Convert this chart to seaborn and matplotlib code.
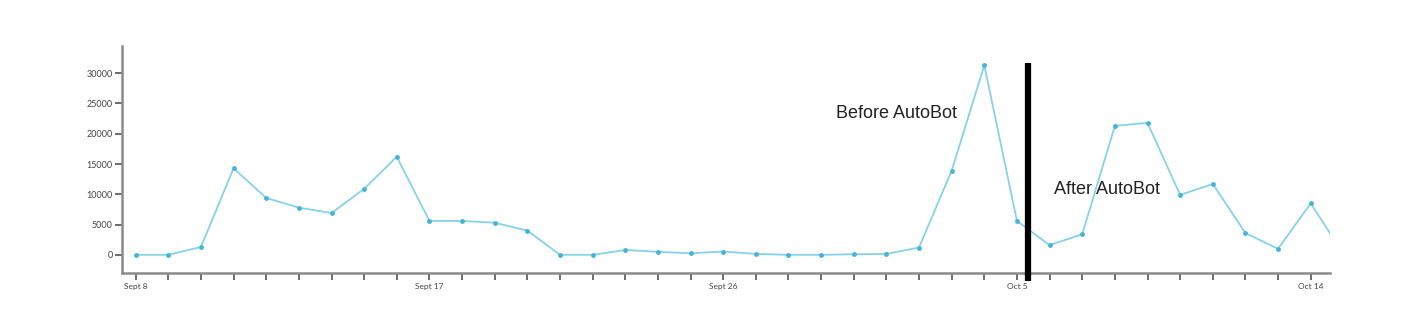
import matplotlib
matplotlib.use("Agg")
import matplotlib.pyplot as plt
import seaborn as sns
import pandas as pd

days = ["Sept 8", "Sept 9", "Sept 10", "Sept 11", "Sept 12", "Sept 13", "Sept 14",
        "Sept 15", "Sept 16", "Sept 17", "Sept 18", "Sept 19", "Sept 20", "Sept 21",
        "Sept 22", "Sept 23", "Sept 24", "Sept 25", "Sept 26", "Sept 27", "Sept 28",
        "Sept 29", "Sept 30", "Oct 1", "Oct 2", "Oct 3", "Oct 4", "Oct 5", "Oct 6",
        "Oct 7", "Oct 8", "Oct 9", "Oct 10", "Oct 11", "Oct 12", "Oct 13", "Oct 14",
        "Oct 15"]
values = [0, 0, 1300, 14300, 9400, 7800, 6900, 10900, 16200, 5600, 5600, 5300, 4000,
          0, 0, 800, 500, 250, 550, 150, 0, 0, 100, 150, 1200, 13900, 31300, 5600,
          1600, 3400, 21300, 21800, 9900, 11700, 3600, 1000, 8500, 200]
label_days = ["Sept 8", "Sept 17", "Sept 26", "Oct 5", "Oct 14"]
yticks = [0, 5000, 10000, 15000, 20000, 25000, 30000]
divider_pos = 27.35
before_text = "Before AutoBot"
after_text = "After AutoBot"

sns.set_theme(style="white")
plt.rcParams['font.family'] = ['Lato', 'DejaVu Sans']

df = pd.DataFrame({"idx": range(len(days)), "day": days, "value": values})

fig = plt.figure(figsize=(14.12, 3.14), dpi=100)
ax = fig.add_axes([0.0866, 0.1306, 0.9419 - 0.0866, 0.8545 - 0.1306])

sns.lineplot(data=df, x="idx", y="value", ax=ax, color="#86d2ea", linewidth=1.3,
             marker="o", markersize=3.5, markerfacecolor="#45b4da",
             markeredgecolor="#45b4da", markeredgewidth=0)

ax.set_xlabel("")
ax.set_ylabel("")

tick_idx = list(range(len(days) - 1))
ax.set_xticks(tick_idx)
ax.set_xticklabels([days[i] if days[i] in label_days else "" for i in tick_idx])
ax.set_yticks(yticks)
ax.set_yticklabels([str(v) for v in yticks])

ax.set_xlim(-0.41, 36.59)
ax.set_ylim(-3000, 34550)

for s in ["top", "right"]:
    ax.spines[s].set_visible(False)
for s in ["left", "bottom"]:
    ax.spines[s].set_color("#8a8a8a")
    ax.spines[s].set_linewidth(1.8)

ax.tick_params(axis="both", which="both", direction="out", length=5, width=1.2,
               color="#555555", labelcolor="#444444", labelsize=6.5, pad=2,
               left=True, bottom=True)
ax.tick_params(axis="x", labelsize=6)

ax.vlines(divider_pos, -4300, 31650, colors="black", linewidth=4.5, clip_on=False, zorder=5)

ax.text(896 / 1412, 1 - 113 / 314, before_text, transform=fig.transFigure,
        ha="center", va="center", fontsize=13, family=["Liberation Sans"], color="#222222")
ax.text(1107 / 1412, 1 - 189 / 314, after_text, transform=fig.transFigure,
        ha="center", va="center", fontsize=13, family=["Liberation Sans"], color="#222222")

fig.savefig("out.png", dpi=100)
